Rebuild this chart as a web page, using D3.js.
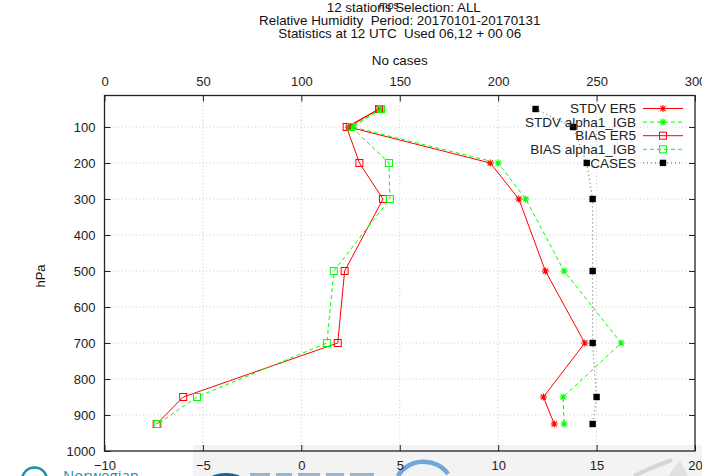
<!DOCTYPE html>
<html>
<head>
<meta charset="utf-8">
<script src="https://cdn.jsdelivr.net/npm/d3@7"></script>
<style>
  html, body { margin: 0; padding: 0; background: #fff; }
  svg { display: block; font-family: "Liberation Sans", Arial, sans-serif; }
  svg text { white-space: pre; }
</style>
</head>
<body>
<svg id="chart" width="702" height="476"></svg>
<script>
// Pressure levels (hPa) and verification statistics per level
const levels  = [50, 100, 200, 300, 500, 700, 850, 925];
const stdvEr5 = [3.95, 2.4, 9.6, 11.05, 12.4, 14.4, 12.3, 12.85];
const stdvIgb = [4.05, 2.6, 10.0, 11.4, 13.35, 16.25, 13.3, 13.35];
const biasEr5 = [3.95, 2.3, 2.95, 4.15, 2.2, 1.85, -6.0, -7.35];
const biasIgb = [4.05, 2.55, 4.45, 4.5, 1.65, 1.3, -5.3, -7.3];
const cases   = [219, 238, 245, 248, 248, 248, 250, 248];

const pressureTicks = [100, 200, 300, 400, 500, 600, 700, 800, 900, 1000];
const valueTicks    = [-10, -5, 0, 5, 10, 15, 20];
const caseTicks     = [0, 50, 100, 150, 200, 250, 300];

const titleLines = [
  "12 stations Selection: ALL",
  "Relative Humidity  Period: 20170101-20170131",
  "Statistics at 12 UTC  Used 06,12 + 00 06"
];

const RED = "#ff0000", GREEN = "#00ff00";

const svg = d3.select("#chart");
const plot = { left: 104.5, right: 695, top: 95.5, bottom: 451 };

const y  = d3.scaleLinear().domain([1000, 12.5]).range([plot.bottom, plot.top]);
const xB = d3.scaleLinear().domain([-10, 20]).range([plot.left, plot.right]);
const xT = d3.scaleLinear().domain([0, 300]).range([plot.left, plot.right]);

// ---- footer logos (partly cut off at the bottom edge) ----
const logos = svg.append("g");
logos.append("rect").attr("x", 193).attr("y", 445).attr("width", 509).attr("height", 31).attr("fill", "#f3f3f3");
logos.append("circle").attr("cx", 34.5).attr("cy", 480).attr("r", 12.5)
  .attr("fill", "none").attr("stroke", "#1a8fa8").attr("stroke-width", 2.5);
logos.append("text").attr("x", 63).attr("y", 481).attr("font-size", 15)
  .attr("font-family", "Open Sans, sans-serif").attr("fill", "#1a8fa8").text("Norwegian");
logos.append("ellipse").attr("cx", 226).attr("cy", 479).attr("rx", 16).attr("ry", 6).attr("fill", "#1e5f8e");
[[250, 20], [276, 16], [298, 22], [326, 18], [350, 24]].forEach(([bx, bw]) => {
  logos.append("rect").attr("x", bx).attr("y", 473).attr("width", bw).attr("height", 5).attr("fill", "#9fb4c8");
});
logos.append("path").attr("d", "M398,476 A28,24 0 0 1 448,474")
  .attr("fill", "none").attr("stroke", "#5b97d2").attr("stroke-width", 4.5).attr("opacity", 0.85);
logos.append("path").attr("d", "M634,476 Q650,468 672,460")
  .attr("fill", "none").attr("stroke", "#d6d6d6").attr("stroke-width", 4);
logos.append("path").attr("d", "M668,476 L680,460 L688,476 Z").attr("fill", "#e0e0e0");

// ---- grid ----
const grid = svg.append("g").attr("stroke", "#bdbdbd").attr("stroke-width", 0.8).attr("stroke-dasharray", "1,2.5");
grid.selectAll("line.h").data(pressureTicks.filter(p => p < 1000)).join("line")
  .attr("x1", plot.left).attr("x2", plot.right).attr("y1", d => y(d)).attr("y2", d => y(d));
grid.selectAll("line.v").data(valueTicks.filter(v => v > -10 && v < 20)).join("line")
  .attr("x1", d => xB(d)).attr("x2", d => xB(d)).attr("y1", plot.top).attr("y2", plot.bottom);

// ---- axes (ticks pointing inward, labels outside) ----
function styleAxis(g) {
  g.select(".domain").remove();
  g.selectAll(".tick line").attr("stroke", "#222").attr("stroke-width", 1);
  g.selectAll(".tick text").attr("fill", "#222").attr("font-size", 13)
    .attr("font-family", "Liberation Sans, Arial, sans-serif");
}
svg.append("g").attr("transform", `translate(0,${plot.bottom})`)
  .call(d3.axisBottom(xB).tickValues(valueTicks).tickSize(-6).tickPadding(10).tickFormat(d3.format("d")))
  .call(styleAxis);
svg.append("g").attr("transform", `translate(0,${plot.top})`)
  .call(d3.axisTop(xT).tickValues(caseTicks).tickSize(-6).tickPadding(10).tickFormat(d3.format("d")))
  .call(styleAxis);
svg.append("g").attr("transform", `translate(${plot.left},0)`)
  .call(d3.axisLeft(y).tickValues(pressureTicks).tickSize(-6).tickPadding(9).tickFormat(d3.format("d")))
  .call(styleAxis);
svg.append("g").attr("transform", `translate(${plot.right},0)`)
  .call(d3.axisRight(y).tickValues(pressureTicks.filter(p => p < 1000)).tickSize(-6).tickFormat(""))
  .call(styleAxis);

// frame
svg.append("rect").attr("x", plot.left).attr("y", plot.top)
  .attr("width", plot.right - plot.left).attr("height", plot.bottom - plot.top)
  .attr("fill", "none").attr("stroke", "#222").attr("stroke-width", 1.3);

// ---- titles ----
const cx = (plot.left + plot.right) / 2;
const titleG = svg.append("g").attr("fill", "#111").attr("font-size", 13.4).attr("text-anchor", "middle");
titleLines.forEach((t, i) => titleG.append("text").attr("x", cx + (i === 0 ? 4 : 0)).attr("y", 11.5 + i * 13.3).text(t));
titleG.append("text").attr("x", cx).attr("y", 65).text("No cases");
svg.append("text").attr("x", 379).attr("y", 9).attr("font-size", 10.5).attr("fill", "#111").text("mps");
svg.append("text").attr("transform", "translate(45,276) rotate(-90)").attr("text-anchor", "middle")
  .attr("font-size", 13).attr("fill", "#111").text("hPa");

// ---- markers ----
const ast = r => `M${-r},0H${r}M0,${-r}V${r}M${-r * 0.75},${-r * 0.75}L${r * 0.75},${r * 0.75}M${-r * 0.75},${r * 0.75}L${r * 0.75},${-r * 0.75}`;
function drawMarker(g, kind, color, px, py) {
  if (kind === "ast") {
    g.append("path").attr("d", ast(3.6)).attr("transform", `translate(${px},${py})`)
      .attr("stroke", color).attr("stroke-width", 1.1).attr("fill", "none");
  } else if (kind === "sq") {
    g.append("rect").attr("x", px - 3.5).attr("y", py - 3.5).attr("width", 7).attr("height", 7)
      .attr("fill", "none").attr("stroke", color).attr("stroke-width", 1);
  } else {
    g.append("rect").attr("x", px - 3.2).attr("y", py - 3.2).attr("width", 6.4).attr("height", 6.4).attr("fill", "#000");
  }
}

const series = [
  { name: "STDV ER5",        vals: stdvEr5, x: xB, color: RED,    dash: null,  marker: "ast" },
  { name: "STDV alpha1_IGB", vals: stdvIgb, x: xB, color: GREEN,  dash: "4,3", marker: "ast" },
  { name: "BIAS ER5",        vals: biasEr5, x: xB, color: RED,    dash: null,  marker: "sq" },
  { name: "BIAS alpha1_IGB", vals: biasIgb, x: xB, color: GREEN,  dash: "4,3", marker: "sq" },
  { name: "CASES",           vals: cases,   x: xT, color: "#555", dash: "1,3", marker: "fill" }
];

const dataG = svg.append("g");
series.forEach(s => {
  const line = d3.line().x((d, i) => s.x(d)).y((d, i) => y(levels[i]));
  dataG.append("path").datum(s.vals).attr("d", line)
    .attr("fill", "none").attr("stroke", s.color).attr("stroke-width", 1)
    .attr("stroke-dasharray", s.dash);
  s.vals.forEach((v, i) => drawMarker(dataG, s.marker, s.color === "#555" ? "#000" : s.color, s.x(v), y(levels[i])));
});

// ---- legend ----
const legend = svg.append("g");
series.forEach((s, i) => {
  const ly = 108.5 + i * 13.6;
  legend.append("text").attr("x", 636).attr("y", ly).attr("dy", "0.35em").attr("text-anchor", "end")
    .attr("font-size", 13.5).attr("fill", "#222").text(s.name);
  legend.append("line").attr("x1", 643).attr("x2", 683).attr("y1", ly).attr("y2", ly)
    .attr("stroke", s.color).attr("stroke-width", 1).attr("stroke-dasharray", s.dash);
  drawMarker(legend, s.marker, s.color === "#555" ? "#000" : s.color, 663, ly);
});
</script>
</body>
</html>
